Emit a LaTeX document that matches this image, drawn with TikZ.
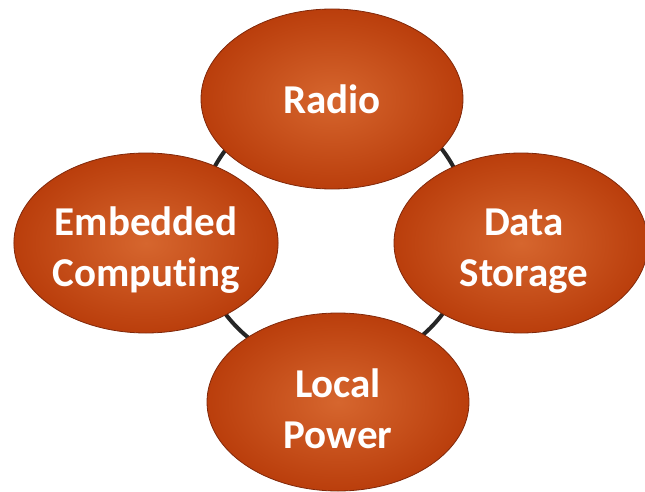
\documentclass[tikz,border=0pt]{standalone}
\usepackage{fontspec}
\setmainfont{Carlito}[Ligatures=NoCommon]
\usetikzlibrary{shapes.geometric}

\definecolor{blobin}{RGB}{214,102,46}
\definecolor{blobout}{RGB}{186,62,12}
\definecolor{blobrim}{RGB}{128,40,10}
\definecolor{ringcol}{RGB}{38,38,38}

% tall strut that lowers a two-line label a little in its ellipse
\newcommand{\liftstrut}{\rule{0pt}{43pt}}

\tikzset{
  blob/.style={
    ellipse, draw=blobrim, line width=0.8pt,
    shading=radial, inner color=blobin, outer color=blobout,
    minimum width=262pt, minimum height=180pt, inner sep=0pt,
    align=center, text=white,
    font=\fontsize{41}{51}\selectfont\bfseries
  },
  ring/.style={draw=ringcol, line width=4pt}
}

\begin{document}
\begin{tikzpicture}[x=1pt,y=-1pt]
  \useasboundingbox (0,0) rectangle (645,492);

  % ring linking the four parts
  \coordinate (hub) at (334,232);
  \draw[ring] (hub) circle[radius=136pt];

  \node[blob] (radio) at (332,99) {Radio};
  \node[blob, minimum width=264pt] (embedded) at (146,243) {\liftstrut Embedded\\Computing};
  \node[blob, minimum width=254pt] (storage) at (521,243) {\liftstrut\hspace*{6pt}Data\\\hspace*{6pt}Storage};
  \node[blob, minimum height=178pt] (power) at (338,402) {\liftstrut Local\\Power};
\end{tikzpicture}
\end{document}
